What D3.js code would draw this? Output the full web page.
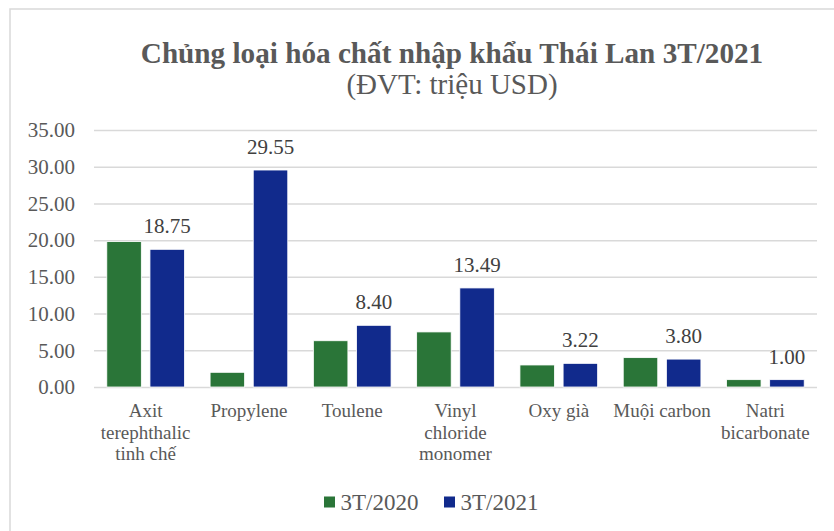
<!DOCTYPE html>
<html>
<head>
<meta charset="utf-8">
<script src="https://cdn.jsdelivr.net/npm/d3@7"></script>
<style>
  body { margin: 0; background: #fff; }
  text { font-family: "Liberation Serif", "Times New Roman", serif; }
</style>
</head>
<body>
<script>
// data
var categories = ["Axit terephthalic tinh chế", "Propylene", "Toulene", "Vinyl chloride monomer", "Oxy già", "Muội carbon", "Natri bicarbonate"];
var catLines = [["Axit", "terephthalic", "tinh chế"], ["Propylene"], ["Toulene"], ["Vinyl", "chloride", "monomer"], ["Oxy già"], ["Muội carbon"], ["Natri", "bicarbonate"]];
var series = ["3T/2020", "3T/2021"];
var values2020 = [19.8, 2.0, 6.3, 7.5, 3.0, 4.0, 1.0];
var values2021 = [18.75, 29.55, 8.40, 13.49, 3.22, 3.80, 1.00];
var yTicks = [0, 5, 10, 15, 20, 25, 30, 35];
var colors = ["#2a7538", "#112a8c"];

var width = 834, height = 531;
var margin = {left: 94, right: 17, top: 130, bottom: 144};

var svg = d3.select("body").append("svg")
    .attr("width", width)
    .attr("height", height);

// chart border
svg.append("rect")
    .attr("x", 10).attr("y", 9)
    .attr("width", width + 20).attr("height", height + 20)
    .attr("fill", "none")
    .attr("stroke", "#d9d9d9")
    .attr("stroke-width", 1.5);

// title
svg.append("text")
    .attr("x", 452).attr("y", 63)
    .attr("text-anchor", "middle")
    .attr("font-size", 29.2)
    .attr("font-weight", "bold")
    .attr("fill", "#595959")
    .text("Chủng loại hóa chất nhập khẩu Thái Lan 3T/2021");

svg.append("text")
    .attr("x", 452).attr("y", 94)
    .attr("text-anchor", "middle")
    .attr("font-size", 29)
    .attr("fill", "#595959")
    .text("(ĐVT: triệu USD)");

var y = d3.scaleLinear()
    .domain([0, 35])
    .range([height - margin.bottom, margin.top]);

var x0 = d3.scaleBand()
    .domain(categories)
    .range([margin.left, width - margin.right]);

var x1 = d3.scaleBand()
    .domain(series)
    .range([12.8, x0.bandwidth() - 12.8])
    .paddingInner(0.2);

// gridlines + y labels
var yAxis = d3.axisLeft(y)
    .tickValues(yTicks)
    .tickSize(-(width - margin.left - margin.right))
    .tickPadding(19)
    .tickFormat(d3.format(".2f"));

var gy = svg.append("g")
    .attr("transform", "translate(" + margin.left + ",0)")
    .call(yAxis);
gy.select(".domain").remove();
gy.selectAll("line").attr("stroke", "#d9d9d9").attr("stroke-width", 1.5);
gy.selectAll("text")
    .attr("font-size", 21)
    .attr("fill", "#595959");

// bars
var data = categories.map(function (c, i) {
    return {cat: c, vals: [values2020[i], values2021[i]]};
});

var groups = svg.append("g").selectAll("g")
    .data(data)
    .join("g")
    .attr("transform", function (d) { return "translate(" + x0(d.cat) + ",0)"; });

groups.selectAll("rect")
    .data(function (d) { return d.vals.map(function (v, j) { return {s: series[j], v: v, j: j}; }); })
    .join("rect")
    .attr("x", function (d) { return x1(d.s); })
    .attr("y", function (d) { return y(d.v); })
    .attr("width", x1.bandwidth())
    .attr("height", function (d) { return y(0) - y(d.v); })
    .attr("fill", function (d) { return colors[d.j]; })
    .attr("stroke", "#fff")
    .attr("stroke-width", 0.8);

// data labels for 3T/2021
groups.append("text")
    .attr("x", function (d) { return x1(series[1]) + x1.bandwidth() / 2; })
    .attr("y", function (d) { return y(d.vals[1]) - 16; })
    .attr("text-anchor", "middle")
    .attr("font-size", 21)
    .attr("fill", "#404040")
    .text(function (d) { return d3.format(".2f")(d.vals[1]); });

// category labels
var gx = svg.append("g").selectAll("text")
    .data(categories)
    .join("text")
    .attr("text-anchor", "middle")
    .attr("font-size", 19)
    .attr("fill", "#595959")
    .attr("x", function (d) { return x0(d) + x0.bandwidth() / 2; })
    .attr("y", 417);

gx.selectAll("tspan")
    .data(function (d, i) { return catLines[i]; })
    .join("tspan")
    .attr("x", function () { return this.parentNode.getAttribute("x"); })
    .attr("dy", function (d, i) { return i === 0 ? 0 : 21.5; })
    .text(function (d) { return d; });

// legend
var legendX = [324, 444];
var legend = svg.append("g").selectAll("g")
    .data(series)
    .join("g")
    .attr("transform", function (d, i) { return "translate(" + legendX[i] + ",502)"; });

legend.append("rect")
    .attr("x", 0).attr("y", -5.5)
    .attr("width", 11).attr("height", 11)
    .attr("fill", function (d, i) { return colors[i]; });

legend.append("text")
    .attr("x", 16.5).attr("y", 8)
    .attr("font-size", 23)
    .attr("fill", "#595959")
    .text(function (d) { return d; });
</script>
</body>
</html>
